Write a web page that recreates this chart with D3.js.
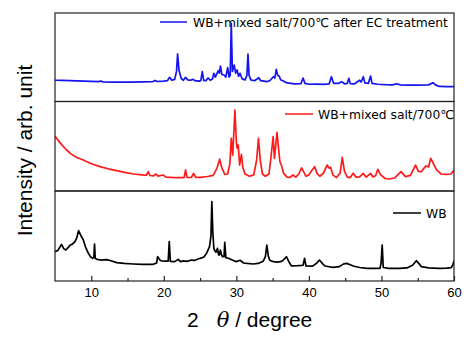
<!DOCTYPE html>
<html><head><meta charset="utf-8">
<script src="https://cdn.jsdelivr.net/npm/d3@7"></script>
<style>body{margin:0;background:#fff}svg{display:block}</style>
</head><body>
<svg id="c" width="471" height="346"></svg>
<script>
// ---------- data ----------
const xDomain = [5, 60];
const xMajorTicks = [10, 20, 30, 40, 50, 60];
const xMinorTicks = [15, 25, 35, 45, 55];
const seriesLabels = ["WB+mixed salt/700℃ after EC treatment", "WB+mixed salt/700℃", "WB"];
const seriesColors = ["#1414f0", "#ff1a1a", "#000000"];

const ecTreated = [[5,24],[6,23.8],[7,23.6],[8,23.3],[9,23.1],[10,22.8],[11,22.4],[11.3,23.2],[11.6,22.2],[13,21.9],[15,21.8],[17,22.1],[18.5,22.5],[18.8,23.8],[19.1,22.6],[20,23],[20.5,23.6],[20.8,27.3],[21.1,24],[21.5,25],[21.75,34],[21.9,53.7],[22.1,35],[22.4,26],[22.7,24],[23.0,27.3],[23.3,24.5],[23.7,24],[24.0,25.1],[24.3,23.5],[24.8,23],[25.1,23.6],[25.3,33.7],[25.5,23.8],[25.8,23.6],[26.1,26.6],[26.4,24],[26.7,25.5],[26.9,31.9],[27.1,27.5],[27.5,34.8],[27.65,32],[27.8,40.1],[28.0,30.5],[28.3,29.9],[28.55,27.5],[28.8,38.2],[29.0,27.5],[29.15,29.5],[29.3,88.4],[29.45,34],[29.7,41.2],[29.9,32],[30.1,35.6],[30.3,28.5],[30.5,31.9],[30.8,25.5],[31.2,24.5],[31.45,29.5],[31.6,53.7],[31.75,29.5],[32.0,24.5],[32.5,23.5],[33.1,26.9],[33.35,23.5],[33.8,23],[34.2,22.4],[34.6,23.5],[35.1,28],[35.3,26.5],[35.5,36.4],[35.7,29.5],[35.9,28.8],[36.1,24.5],[36.4,23.5],[37,21],[38,20],[38.9,20.2],[39.2,26.5],[39.45,20.5],[40,19.5],[41,19.6],[42,19.4],[42.8,20],[43.1,28],[43.4,20.5],[44.1,20.5],[44.5,22.4],[44.9,20],[45.3,20.5],[45.5,26.2],[45.7,20.2],[46.3,20],[47.0,24],[47.2,22],[47.5,28],[47.7,21],[48.2,20.5],[48.5,28.8],[48.7,20.5],[49.5,19.5],[50.5,19],[51.5,18.8],[52.1,20],[52.6,18.8],[53.5,18.5],[55,18.5],[56.5,18.8],[57.1,21.2],[57.5,18.5],[58,17],[59,16.7],[60,16.7]];

const mixedSalt = [[5,61.5],[5.5,56],[6,51],[6.6,45.8],[7.2,41.5],[8,37.5],[8.9,34.6],[10,30.5],[11.2,27.2],[12.3,24.8],[13.5,22.7],[14.6,20.8],[15.8,19],[17,18],[17.6,17.6],[17.85,21.6],[18.1,17.3],[18.6,17],[18.9,19],[19.2,16.6],[19.9,17.9],[20.3,15.5],[21.5,15],[22.6,14.9],[22.8,15.2],[23.0,23.5],[23.2,15.3],[23.8,15.1],[24.1,19.8],[24.4,15.2],[25,15.3],[26,16.2],[26.8,17.5],[27.3,25],[27.7,35.6],[28.0,26],[28.4,18.5],[28.8,19],[29.1,30],[29.3,58.9],[29.5,40],[29.8,90.5],[30.0,55],[30.1,48],[30.25,51.4],[30.45,29],[30.7,41],[30.9,26],[31.2,19],[31.8,16.5],[32.4,18],[32.8,35],[33.05,58.9],[33.3,34],[33.6,19],[34.0,16.5],[34.5,19],[34.8,40],[35.07,60.7],[35.25,36.5],[35.6,65.6],[35.85,45],[36.0,33],[36.2,29],[36.5,20],[37,15.5],[37.4,15.2],[37.8,17.9],[38.2,15.5],[38.6,19],[39.0,25.8],[39.3,21],[39.6,16.5],[40,18],[40.4,23],[40.8,27.2],[41.1,20],[41.5,16.5],[42,20],[42.5,29],[42.8,25.5],[43.0,26.5],[43.3,18],[43.8,15],[44.3,20],[44.6,37.6],[44.9,22],[45.3,15.5],[45.7,15],[46.1,19.8],[46.5,15.5],[47.0,15.8],[47.5,19.6],[47.9,15.5],[48.5,19.8],[48.8,15.8],[49.2,17],[49.5,24.2],[49.9,18],[50.5,14],[51,13.4],[51.8,14.5],[52.7,21.6],[53.3,16],[54,17.5],[54.4,24],[54.7,29],[55.1,22],[55.5,21.6],[56.1,28],[56.5,27],[56.8,36.5],[57.2,30],[57.6,23.5],[58.2,19],[59,18.6],[59.6,19],[60,23.5]];

const wbRaw = [[5,32.6],[5.4,34],[5.9,40.7],[6.2,36],[6.5,34.4],[6.8,37],[7.1,40],[7.4,41],[7.75,43.7],[8.0,48],[8.25,55.9],[8.6,50],[8.9,45.6],[9.2,38],[9.6,30.8],[9.9,27],[10.2,25.2],[10.35,26],[10.45,41.1],[10.55,25],[10.8,24.1],[11.3,23.3],[12.1,23.8],[12.7,22.5],[13.5,20.4],[14.5,19.5],[15.8,18.9],[17,18.5],[18.5,18.5],[19.0,20],[19.15,27],[19.5,23],[19.7,22.2],[20.3,22],[20.6,22],[20.75,43.7],[20.9,21.8],[21.5,21.5],[22.0,24],[22.3,21.5],[22.7,22.4],[23.2,21.8],[23.8,23.3],[24.3,23],[25,25.2],[25.5,26.5],[25.9,30.8],[26.3,38.1],[26.5,50],[26.62,88.1],[26.75,55],[26.9,36],[27.1,32.6],[27.2,32],[27.4,36.3],[27.55,29],[27.65,28.9],[27.8,34.4],[27.95,29],[28.1,27],[28.3,27],[28.4,43],[28.55,26],[29,25],[29.5,23],[30,21.5],[30.5,23],[31,20],[31.5,19.5],[32.3,18.9],[33,19.5],[33.7,22],[34.0,27],[34.2,40],[34.4,28],[34.6,23],[35.1,21.5],[35.6,21],[36.1,21.5],[36.45,23],[36.9,27],[37.2,22],[37.6,16.7],[38.5,17],[39.2,17.5],[39.4,25.2],[39.6,16.7],[40.5,16.5],[41.1,20],[41.45,23.3],[41.9,19],[42.2,16.7],[43.3,15.2],[44.2,16],[44.8,19],[45.2,19.6],[45.7,18],[46.1,16.7],[47,15],[48,14.1],[49,14],[49.8,14.1],[49.95,20],[50.1,40],[50.25,15],[51,14.1],[52.5,14.1],[53.5,14.5],[54.3,17.5],[54.8,22.6],[55.2,19],[55.5,16],[56.5,14.5],[57.9,14.1],[59,14.3],[59.6,14.8],[59.85,18],[60,22.6]];

const series = [ecTreated, mixedSalt, wbRaw];

// ---------- layout ----------
const svg = d3.select("#c");
const left = 55, right = 454;
const panelEdges = [13, 101.5, 191, 281];
const x = d3.scaleLinear().domain(xDomain).range([left, right]);

const legendPos = [
  {lx1: 160, lx2: 187, ly: 22, tx: 193, ty: 26.5},
  {lx1: 285, lx2: 313, ly: 114, tx: 318, ty: 118.5},
  {lx1: 393, lx2: 421, ly: 213, tx: 426, ty: 217.5}
];

series.forEach((data, i) => {
  const top = panelEdges[i], bottom = panelEdges[i + 1];
  const y = d3.scaleLinear().domain([0, 100]).range([bottom, top]);
  const clipId = "clip" + i;
  svg.append("clipPath").attr("id", clipId)
    .append("rect").attr("x", left).attr("y", top).attr("width", right - left).attr("height", bottom - top);
  svg.append("path")
    .datum(data)
    .attr("clip-path", `url(#${clipId})`)
    .attr("fill", "none")
    .attr("stroke", seriesColors[i])
    .attr("stroke-width", 1.7)
    .attr("stroke-linejoin", "round")
    .attr("d", d3.line().x(d => x(d[0])).y(d => y(d[1])));
  svg.append("rect")
    .attr("x", left).attr("y", top).attr("width", right - left).attr("height", bottom - top)
    .attr("fill", "none").attr("stroke", "#222").attr("stroke-width", 1.2);
  const L = legendPos[i];
  svg.append("line").attr("x1", L.lx1).attr("x2", L.lx2).attr("y1", L.ly).attr("y2", L.ly)
    .attr("stroke", seriesColors[i]).attr("stroke-width", 1.5);
  svg.append("text").attr("x", L.tx).attr("y", L.ty)
    .attr("font-family", "DejaVu Sans, sans-serif").attr("font-size", 12.3).attr("fill", "#000")
    .text(seriesLabels[i]);
});

// x axis (ticks inward)
const axisY = panelEdges[3];
const gAxis = svg.append("g").attr("transform", `translate(0,${axisY})`);
const major = d3.axisBottom(x).tickValues(xMajorTicks).tickSize(-5).tickPadding(10).tickFormat(d3.format("d"));
gAxis.call(major);
gAxis.select(".domain").remove();
gAxis.selectAll("line").attr("stroke", "#222").attr("stroke-width", 1.2);
gAxis.selectAll("text").attr("font-family", "Liberation Sans, Arial, sans-serif").attr("font-size", 13).attr("fill", "#000").attr("dy", "0.71em").attr("y", 7);
const gMinor = svg.append("g").attr("transform", `translate(0,${axisY})`);
gMinor.call(d3.axisBottom(x).tickValues(xMinorTicks).tickSize(-3).tickFormat(""));
gMinor.select(".domain").remove();
gMinor.selectAll("line").attr("stroke", "#222").attr("stroke-width", 1.2);

// axis titles
const xt = svg.append("text").attr("x", 187).attr("y", 327)
  .attr("font-family", "Liberation Sans, Arial, sans-serif").attr("font-size", 21).attr("fill", "#000");
xt.append("tspan").text("2");
xt.append("tspan").attr("dx", 18).attr("font-style", "italic").attr("font-family", "DejaVu Serif, serif").text("θ");
xt.append("tspan").text(" / degree");

svg.append("text")
  .attr("transform", "translate(32,150.5) rotate(-90)")
  .attr("text-anchor", "middle")
  .attr("font-family", "Liberation Sans, Arial, sans-serif").attr("font-size", 21).attr("fill", "#000")
  .text("Intensity / arb. unit");
</script>
</body></html>
